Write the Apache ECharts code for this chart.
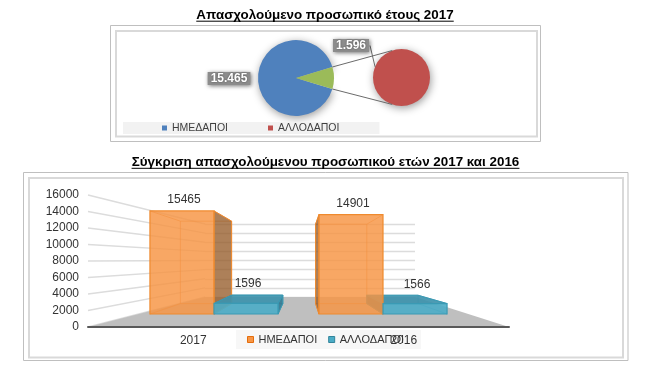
<!DOCTYPE html>
<html><head><meta charset="utf-8">
<script src="https://cdn.jsdelivr.net/npm/echarts@6/dist/echarts.min.js"></script>
<style>html,body{margin:0;padding:0;background:#fff}#c{width:645px;height:372px}</style>
</head><body><div id="c"></div>
<script>
// ---------- data ----------
const seriesNames = ['ΗΜΕΔΑΠΟΙ', 'ΑΛΛΟΔΑΠΟΙ'];
const pieValues2017 = [15465, 1596];          // ΗΜΕΔΑΠΟΙ, ΑΛΛΟΔΑΠΟΙ
const years = ['2017', '2016'];
const nativeValues = [15465, 14901];           // ΗΜΕΔΑΠΟΙ
const foreignValues = [1596, 1566];            // ΑΛΛΟΔΑΠΟΙ
const yAxisMax = 16000;
const yAxisStep = 2000;
const titlePie = 'Απασχολούμενο προσωπικό έτους 2017';
const titleBar = 'Σύγκριση απασχολούμενου προσωπικού ετών 2017 και 2016';

// ---------- helpers ----------
const FONT = '"Liberation Sans", Arial, sans-serif';
function fmtGreek(v) { return String(v).replace(/\B(?=(\d{3})+(?!\d))/g, '.'); }
function measure(text, font) {
  const ctx = document.createElement('canvas').getContext('2d');
  ctx.font = font; return ctx.measureText(text).width;
}
function titleGraphics(text, cx, cy, targetW) {
  const w12 = measure(text, 'bold 12px ' + FONT);
  const fs = Math.round(12 * targetW / w12 * 10) / 10;
  const w = w12 * fs / 12;
  return [
    { type: 'text', x: cx, y: cy, z: 50, style: { text, font: 'bold ' + fs + 'px ' + FONT, fill: '#000', align: 'center', verticalAlign: 'middle' } },
    { type: 'line', z: 50, shape: { x1: cx - w / 2, y1: cy + 5.5, x2: cx + w / 2, y2: cy + 5.5 }, style: { stroke: '#000', lineWidth: 1 } }
  ];
}
const yTicks = [];
for (let v = 0; v <= yAxisMax; v += yAxisStep) yTicks.push(v);

const chart = echarts.init(document.getElementById('c'), null, { renderer: 'canvas' });

// grids: A = visible axis (left wall front / floor front), B = back wall, C = bar front plane
const grids = [
  { left: 88, right: 136, top: 195, bottom: 45 },
  { left: 205, right: 230, top: 224, bottom: 75 },
  { left: 129.5, right: 177.5, top: 207.4, bottom: 58 }
];
const xAxes = [
  { gridIndex: 0, type: 'category', data: years, z: 10,
    axisLine: { show: true, lineStyle: { color: '#595959', width: 2 } },
    axisTick: { show: false },
    axisLabel: { margin: 8, fontSize: 12, color: '#333', fontFamily: FONT } },
  { gridIndex: 1, type: 'value', min: 0, max: 1, show: false },
  { gridIndex: 2, type: 'category', data: years, show: false }
];
const yAxes = [
  { gridIndex: 0, type: 'value', min: 0, max: yAxisMax, interval: yAxisStep,
    axisLine: { show: false }, axisTick: { show: false }, splitLine: { show: false },
    axisLabel: { margin: 9, fontSize: 12, color: '#333', fontFamily: FONT, formatter: v => String(v) } },
  { gridIndex: 1, type: 'value', min: 0, max: yAxisMax, interval: yAxisStep,
    axisLine: { show: false }, axisTick: { show: false }, axisLabel: { show: false },
    splitLine: { show: true, lineStyle: { color: '#DCDCDC', width: 1.3 } } },
  { gridIndex: 2, type: 'value', min: 0, max: yAxisMax, show: false }
];

chart.setOption({ animation: false, grid: grids, xAxis: xAxes, yAxis: yAxes });
const gB = {
  x0: chart.convertToPixel({ xAxisIndex: 1 }, 0),
  x1: chart.convertToPixel({ xAxisIndex: 1 }, 1),
  y: v => chart.convertToPixel({ yAxisIndex: 1 }, v)
};

// ---------- pie of pie ----------
const PIE1 = { c: [296, 78], r: 38 };
const PIE2 = { c: [401.5, 77.5], r: 28.5 };
const pieTotal = pieValues2017[0] + pieValues2017[1];
const halfDeg = 180 * pieValues2017[1] / pieTotal;
const h = halfDeg * Math.PI / 180;
const tAng = 109 * Math.PI / 180;
const pA1 = [PIE1.c[0] + PIE1.r * Math.cos(h), PIE1.c[1] - PIE1.r * Math.sin(h)];
const pA2 = [PIE1.c[0] + PIE1.r * Math.cos(h), PIE1.c[1] + PIE1.r * Math.sin(h)];
const pB1 = [PIE2.c[0] + PIE2.r * Math.cos(tAng), PIE2.c[1] - PIE2.r * Math.sin(tAng)];
const pB2 = [PIE2.c[0] + PIE2.r * Math.cos(tAng), PIE2.c[1] + PIE2.r * Math.sin(tAng)];
const lAng = 158 * Math.PI / 180;
const pLeader = [PIE2.c[0] + PIE2.r * Math.cos(lAng), PIE2.c[1] - PIE2.r * Math.sin(lAng)];
const lbl1 = [PIE1.c[0] - 67, PIE1.c[1] + 0.5];
const lbl2 = [PIE2.c[0] - 50.5, PIE2.c[1] - 32];

function pieLabel(text, p) {
  return { type: 'text', x: p[0], y: p[1], z: 60, style: {
    text, font: 'bold 12px ' + FONT, fill: '#fff', align: 'center', verticalAlign: 'middle',
    backgroundColor: '#8C8C8C', padding: [1, 3, 0, 3],
    shadowBlur: 4, shadowColor: 'rgba(0,0,0,0.55)', shadowOffsetX: 1, shadowOffsetY: 1,
    textShadowBlur: 2, textShadowColor: 'rgba(0,0,0,0.45)' } };
}

const pieShadow = { shadowBlur: 8, shadowColor: 'rgba(0,0,0,0.4)', shadowOffsetX: 1, shadowOffsetY: 2 };

// ---------- 3D bar rendering ----------
const VP = [302, 262], K = 0.8, BAR_FRAC = 0.379;
function back(p) { return [VP[0] + K * (p[0] - VP[0]), VP[1] + K * (p[1] - VP[1])]; }
function makeBarRender(side, col) {
  return function (params, api) {
    const cat = api.value(0), val = api.value(1);
    const base = api.coord([cat, 0]), top = api.coord([cat, val]);
    const bw = api.size([1, 0])[0] * BAR_FRAC;
    const x0 = side === 0 ? base[0] - bw : base[0], x1 = x0 + bw;
    const yT = top[1], yB = base[1];
    const f = [[x0, yT], [x1, yT], [x1, yB], [x0, yB]];
    const b = f.map(back);
    const ch = [];
    ch.push({ type: 'polygon', z2: 1, shape: { points: b }, style: { fill: 'none', stroke: col.hidden, lineWidth: 1 } });
    for (let i = 0; i < 4; i++) ch.push({ type: 'line', z2: 1, shape: { x1: f[i][0], y1: f[i][1], x2: b[i][0], y2: b[i][1] }, style: { stroke: col.hidden, lineWidth: 1 } });
    if (b[1][0] > x1) ch.push({ type: 'polygon', z2: 2, shape: { points: [f[1], b[1], b[2], f[2]] }, style: { fill: col.side, stroke: col.edge, lineWidth: 1 } });
    if (b[0][0] < x0) ch.push({ type: 'polygon', z2: 2, shape: { points: [f[0], b[0], b[3], f[3]] }, style: { fill: col.side, stroke: col.edge, lineWidth: 1 } });
    if (b[0][1] < yT) ch.push({ type: 'polygon', z2: 2.5, shape: { points: [f[0], f[1], b[1], b[0]] }, style: { fill: col.top, stroke: col.edge, lineWidth: 1 } });
    ch.push({ type: 'polygon', z2: 3, shape: { points: f }, style: { fill: col.front, stroke: col.edge, lineWidth: 1.2 } });
    const ly = Math.min(yT, b[0][1]) - 11;
    ch.push({ type: 'text', z2: 5, x: (x0 + x1) / 2 + 2, y: ly, style: { text: String(val), font: '12px ' + FONT, fill: '#333', align: 'center', verticalAlign: 'middle' } });
    return { type: 'group', children: ch };
  };
}
const nativeCol = { front: 'rgba(246,148,66,0.82)', side: 'rgba(150,92,42,0.78)', top: 'rgba(220,120,40,0.85)', edge: '#EF8A2E', hidden: 'rgba(225,125,45,0.55)' };
const foreignCol = { front: 'rgba(75,172,198,0.9)', side: 'rgba(50,122,146,0.9)', top: 'rgba(62,146,172,0.92)', edge: '#3A9AB4', hidden: 'rgba(50,140,165,0.6)' };

const option = {
  animation: false,
  textStyle: { fontFamily: FONT },
  grid: grids, xAxis: xAxes, yAxis: yAxes,
  legend: [
    { data: [{ name: seriesNames[0], itemStyle: { color: '#4F81BD' } }, { name: seriesNames[1], itemStyle: { color: '#C0504D' } }],
      left: 123, top: 122, icon: 'rect', itemWidth: 5, itemHeight: 5, itemGap: 40,
      padding: [0.5, 40, 0.5, 39], backgroundColor: '#F2F2F2', selectedMode: false,
      textStyle: { fontSize: 10.5, color: '#404040', fontFamily: FONT } },
    { data: [{ name: seriesNames[0], itemStyle: { color: '#F79646', borderColor: '#E46C0A', borderWidth: 1 } },
             { name: seriesNames[1], itemStyle: { color: '#4BACC6', borderColor: '#31849B', borderWidth: 1 } }],
      left: 236, top: 330, icon: 'rect', itemWidth: 6, itemHeight: 6, itemGap: 11,
      padding: [4, 17, 4, 11], backgroundColor: '#F7F7F7', selectedMode: false,
      textStyle: { fontSize: 11, color: '#333', fontFamily: FONT } }
  ],
  graphic: [
    { type: 'rect', z: 0, shape: { x: 110.5, y: 25.5, width: 430, height: 116 }, style: { fill: '#fff', stroke: '#BFBFBF', lineWidth: 1 } },
    { type: 'rect', z: 0, shape: { x: 116, y: 31, width: 421, height: 105.5 }, style: { fill: 'none', stroke: '#D9D9D9', lineWidth: 2 } },
    { type: 'rect', z: 0, shape: { x: 23.5, y: 172.5, width: 604.5, height: 188 }, style: { fill: '#fff', stroke: '#BFBFBF', lineWidth: 1 } },
    { type: 'rect', z: 0, shape: { x: 29, y: 178, width: 594, height: 179.5 }, style: { fill: 'none', stroke: '#D9D9D9', lineWidth: 2 } },
    ...titleGraphics(titlePie, 325, 15.7, 258),
    ...titleGraphics(titleBar, 325.5, 162.8, 387),
    { type: 'line', z: 55, shape: { x1: pA1[0], y1: pA1[1], x2: pB1[0], y2: pB1[1] }, style: { stroke: '#6B6B6B', lineWidth: 1 } },
    { type: 'line', z: 55, shape: { x1: pA2[0], y1: pA2[1], x2: pB2[0], y2: pB2[1] }, style: { stroke: '#6B6B6B', lineWidth: 1 } },
    { type: 'line', z: 55, shape: { x1: lbl2[0] + 19, y1: lbl2[1], x2: pLeader[0], y2: pLeader[1] }, style: { stroke: '#6B6B6B', lineWidth: 1 } },
    pieLabel(fmtGreek(pieValues2017[0]), lbl1),
    pieLabel(fmtGreek(pieValues2017[1]), lbl2)
  ],
  series: [
    { id: 'pieMain', type: 'pie', center: PIE1.c, radius: PIE1.r, startAngle: 360 - halfDeg, clockwise: true,
      label: { show: false }, labelLine: { show: false }, emphasis: { disabled: true }, silent: true,
      data: [
        { name: seriesNames[0], value: pieValues2017[0], itemStyle: Object.assign({ color: '#4F81BD', borderWidth: 0 }, pieShadow) },
        { name: 'Λοιποί', value: pieValues2017[1], itemStyle: { color: '#9BBB59', borderWidth: 0 } }
      ] },
    { id: 'pieSub', type: 'pie', center: PIE2.c, radius: PIE2.r,
      label: { show: false }, labelLine: { show: false }, emphasis: { disabled: true }, silent: true,
      data: [{ name: seriesNames[1], value: pieValues2017[1], itemStyle: Object.assign({ color: '#C0504D', borderWidth: 0 }, pieShadow) }] },
    { id: 'wall', type: 'custom', xAxisIndex: 0, yAxisIndex: 0, z: 1, silent: true,
      data: yTicks.map(v => [0, v]),
      renderItem: (params, api) => {
        const cs = params.coordSys, v = api.value(1);
        const ya = api.coord([0, v])[1];
        return { type: 'line', shape: { x1: cs.x, y1: ya, x2: gB.x0, y2: gB.y(v) }, style: { stroke: '#DCDCDC', lineWidth: 1.3 } };
      } },
    { id: 'floor', type: 'custom', xAxisIndex: 0, yAxisIndex: 0, z: 1, silent: true,
      data: [[0, 0]],
      renderItem: (params, api) => {
        const cs = params.coordSys, y0 = api.coord([0, 0])[1];
        return { type: 'polygon', z2: 5, shape: { points: [[cs.x, y0], [cs.x + cs.width, y0], [gB.x1, gB.y(0)], [gB.x0, gB.y(0)]] }, style: { fill: '#BFBFBF' } };
      } },
    { id: 'native', name: seriesNames[0], type: 'custom', xAxisIndex: 2, yAxisIndex: 2, z: 3, silent: true,
      itemStyle: { color: '#F79646' },
      data: years.map((y, i) => [i, nativeValues[i]]),
      renderItem: makeBarRender(0, nativeCol) },
    { id: 'foreign', name: seriesNames[1], type: 'custom', xAxisIndex: 2, yAxisIndex: 2, z: 3, silent: true,
      itemStyle: { color: '#4BACC6' },
      data: years.map((y, i) => [i, foreignValues[i]]),
      renderItem: makeBarRender(1, foreignCol) }
  ]
};
chart.setOption(option, true);
</script></body></html>
